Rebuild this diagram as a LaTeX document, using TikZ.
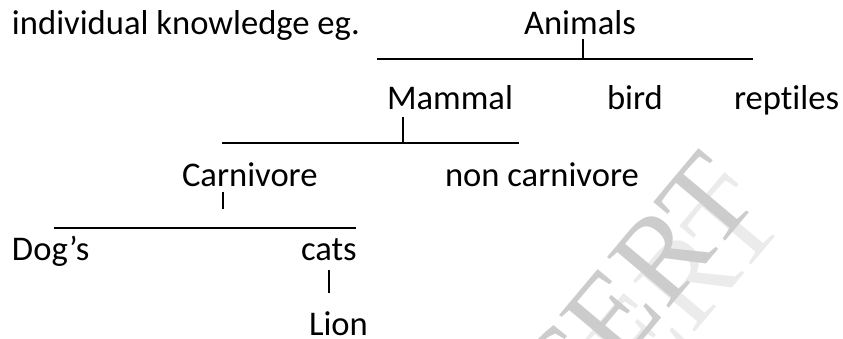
\documentclass[tikz,border=0pt]{standalone}
\usepackage{fontspec}
\setmainfont{Carlito}[Ligatures=NoCommon]
\newfontfamily\wmfont{Liberation Serif}
\begin{document}
\begin{tikzpicture}[x=1pt,y=-1pt,
  lbl/.style={anchor=base west,inner sep=0pt,outer sep=0pt,font=\fontsize{34.6}{40}\selectfont},
  conn/.style={line width=1.6pt,black},
  wm/.style={anchor=base east,inner sep=0pt,rotate=50,font=\wmfont\fontsize{122}{122}\selectfont}]
\useasboundingbox (0,0) rectangle (843,339);
% watermark
\begin{scope}
\clip (0,0) rectangle (843,339);
\node[wm,text=black!8] (wm2) at (788,222) {NCERT};
\node[wm,text=black!20] (wm1) at (762,198) {NCERT};
\end{scope}
% labels
\node[lbl] (intro) at (12,35) {individual knowledge eg.};
\node[lbl] (animals) at (524,35) {Animals};
\node[lbl] (mammal) at (387,110) {Mammal};
\node[lbl] (bird) at (607,110) {bird};
\node[lbl] (reptiles) at (734,110) {reptiles};
\node[lbl] (carn) at (182,186) {Carnivore};
\node[lbl] (noncarn) at (445,186) {non carnivore};
\node[lbl] (dogs) at (12,260) {Dog’s};
\node[lbl] (cats) at (301,260) {cats};
\node[lbl] (lion) at (309,335) {Lion};
% connector points
\coordinate (aL) at (377,59); \coordinate (aR) at (753,59);
\coordinate (aT0) at (583,39); \coordinate (aT) at (583,59);
\coordinate (mL) at (222,143); \coordinate (mR) at (519,143);
\coordinate (mT0) at (403,117); \coordinate (mT) at (403,143);
\coordinate (cL) at (54,228); \coordinate (cR) at (356,228);
\coordinate (cT0) at (223,192); \coordinate (cT) at (223,209);
\coordinate (kT0) at (329,270); \coordinate (kT) at (329,293);
% connectors
\draw[conn] (aL) -- (aR);
\draw[conn] (aT0) -- (aT);
\draw[conn] (mL) -- (mR);
\draw[conn] (mT0) -- (mT);
\draw[conn] (cL) -- (cR);
\draw[conn] (cT0) -- (cT);
\draw[conn] (kT0) -- (kT);
\end{tikzpicture}
\end{document}
